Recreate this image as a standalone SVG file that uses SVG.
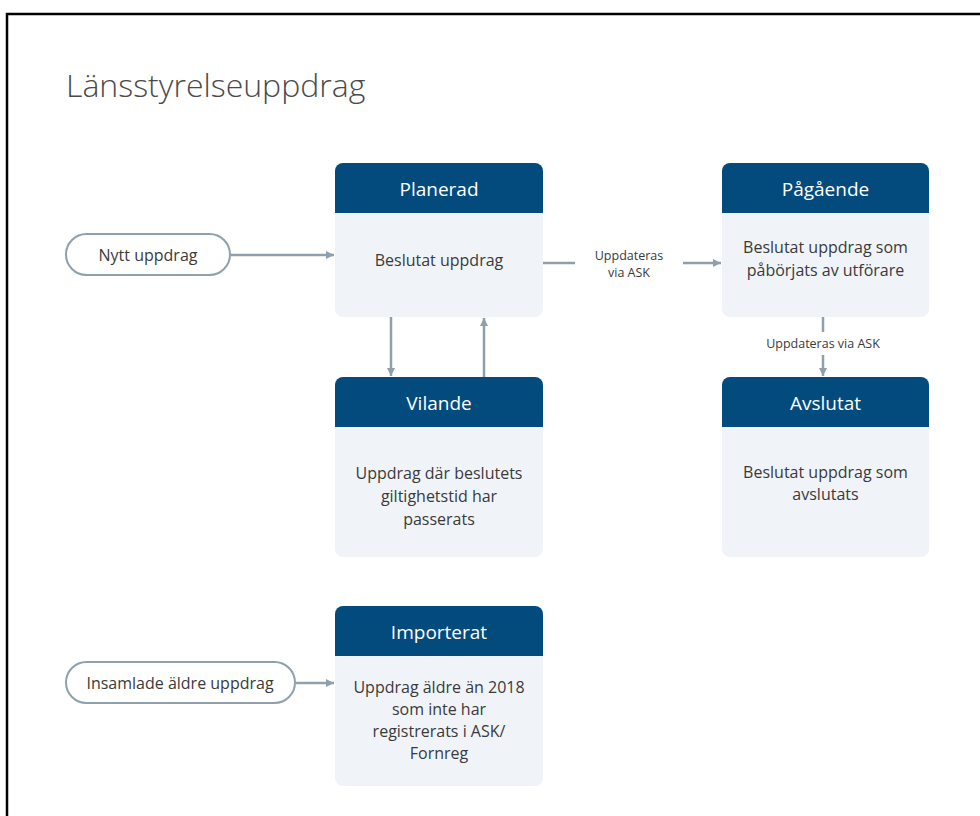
<svg xmlns="http://www.w3.org/2000/svg" width="980" height="816" viewBox="0 0 980 816">
<defs>
<style>
.t{font-family:"Source Sans Pro","Open Sans","Liberation Sans",sans-serif}
.title{font-size:32px;font-weight:300;fill:#4a4a4a}
.hdr{font-size:19px;fill:#fff;text-anchor:middle}
.body{font-size:16px;fill:#3a3a3a;text-anchor:middle}
.lbl{font-size:12.5px;fill:#3a3a3a;text-anchor:middle}
.pill{fill:#fff;stroke:#8fa0ad;stroke-width:2}
.card{fill:#f0f4f8}
.head{fill:#044b7d}
.c{stroke:#8fa0ad;stroke-width:2.5;fill:none}
</style>
<marker id="ah" markerWidth="10" markerHeight="10" refX="8" refY="5" orient="auto" markerUnits="userSpaceOnUse">
<path d="M0,1 L8,5 L0,9 Z" fill="#8fa0ad"/>
</marker>
</defs>
<rect width="980" height="816" fill="#fff"/>
<path d="M7,816 V14 H980" fill="none" stroke="#000" stroke-width="2.5"/>
<text class="t title" x="66" y="97">Länsstyrelseuppdrag</text>

<g id="connectors">
<line class="c" x1="231" y1="255" x2="334" y2="255" marker-end="url(#ah)"/>
<line class="c" x1="543" y1="263" x2="575" y2="263"/>
<line class="c" x1="683" y1="263" x2="721" y2="263" marker-end="url(#ah)"/>
<text class="t lbl" x="629" y="260">Uppdateras</text>
<text class="t lbl" x="629" y="277">via ASK</text>
<line class="c" x1="391" y1="317" x2="391" y2="376" marker-end="url(#ah)"/>
<line class="c" x1="484" y1="377" x2="484" y2="318" marker-end="url(#ah)"/>
<line class="c" x1="823" y1="317" x2="823" y2="332"/>
<line class="c" x1="823" y1="355" x2="823" y2="376" marker-end="url(#ah)"/>
<text class="t lbl" x="823" y="348">Uppdateras via ASK</text>
<line class="c" x1="296" y1="683" x2="334" y2="683" marker-end="url(#ah)"/>
</g>

<g id="nytt">
<rect class="pill" x="66" y="234" width="164" height="41" rx="20.5"/>
<text class="t body" x="148" y="261">Nytt uppdrag</text>
</g>

<g id="insamlade">
<rect class="pill" x="66" y="662" width="229" height="41" rx="20.5"/>
<text class="t body" x="180" y="689">Insamlade äldre uppdrag</text>
</g>

<g id="planerad">
<rect class="card" x="335" y="163" width="208" height="154" rx="8"/>
<path class="head" d="M335,213 V171 a8,8 0 0 1 8,-8 H535 a8,8 0 0 1 8,8 V213 Z"/>
<text class="t hdr" x="439" y="196">Planerad</text>
<text class="t body" x="439" y="266">Beslutat uppdrag</text>
</g>

<g id="pagaende">
<rect class="card" x="722" y="163" width="207" height="154" rx="8"/>
<path class="head" d="M722,213 V171 a8,8 0 0 1 8,-8 H921 a8,8 0 0 1 8,8 V213 Z"/>
<text class="t hdr" x="825.5" y="196">Pågående</text>
<text class="t body" x="825.5" y="253">Beslutat uppdrag som</text>
<text class="t body" x="825.5" y="276">påbörjats av utförare</text>
</g>

<g id="vilande">
<rect class="card" x="335" y="377" width="208" height="180" rx="8"/>
<path class="head" d="M335,427 V385 a8,8 0 0 1 8,-8 H535 a8,8 0 0 1 8,8 V427 Z"/>
<text class="t hdr" x="439" y="410">Vilande</text>
<text class="t body" x="439" y="479">Uppdrag där beslutets</text>
<text class="t body" x="439" y="502">giltighetstid har</text>
<text class="t body" x="439" y="525">passerats</text>
</g>

<g id="avslutat">
<rect class="card" x="722" y="377" width="207" height="180" rx="8"/>
<path class="head" d="M722,427 V385 a8,8 0 0 1 8,-8 H921 a8,8 0 0 1 8,8 V427 Z"/>
<text class="t hdr" x="825.5" y="410">Avslutat</text>
<text class="t body" x="825.5" y="478">Beslutat uppdrag som</text>
<text class="t body" x="825.5" y="500">avslutats</text>
</g>

<g id="importerat">
<rect class="card" x="335" y="606" width="208" height="180" rx="8"/>
<path class="head" d="M335,656 V614 a8,8 0 0 1 8,-8 H535 a8,8 0 0 1 8,8 V656 Z"/>
<text class="t hdr" x="439" y="639">Importerat</text>
<text class="t body" x="439" y="693">Uppdrag äldre än 2018</text>
<text class="t body" x="439" y="715">som inte har</text>
<text class="t body" x="439" y="737">registrerats i ASK/</text>
<text class="t body" x="439" y="759">Fornreg</text>
</g>
</svg>
